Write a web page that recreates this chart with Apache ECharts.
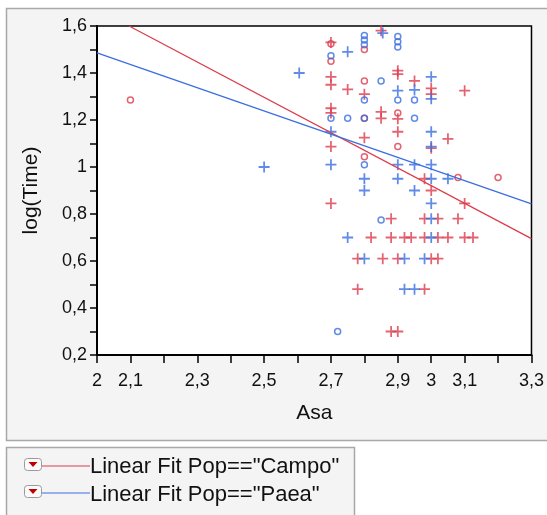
<!DOCTYPE html>
<html>
<head>
<meta charset="utf-8">
<script src="https://cdn.jsdelivr.net/npm/echarts@6/dist/echarts.min.js"></script>
<style>
html,body{margin:0;padding:0;background:#fff;}
#c{width:547px;height:515px;}
</style>
</head>
<body>
<div id="c"></div>
<script>
// Campo (red) markers
const campoPlus = [
  [2.70,1.53],[2.70,1.384],[2.70,1.35],[2.75,1.33],[2.80,1.31],[2.85,1.58],
  [2.90,1.41],[2.90,1.395],[2.95,1.366],[3.00,1.335],[3.00,1.31],[3.10,1.325],
  [2.70,1.25],[2.70,1.23],[2.85,1.235],[2.85,1.207],[2.90,1.205],[2.80,1.125],
  [2.90,1.15],[3.05,1.12],[2.70,1.087],[3.00,1.08],[2.98,0.95],[3.00,0.90],
  [2.70,0.845],[3.10,0.845],
  [2.88,0.78],[2.98,0.78],[3.02,0.78],[3.08,0.78],
  [2.82,0.70],[2.88,0.70],[2.92,0.70],[2.94,0.70],[2.98,0.70],[3.02,0.70],[3.05,0.70],[3.10,0.70],[3.125,0.70],
  [2.78,0.61],[2.855,0.61],[2.90,0.61],[3.00,0.61],[3.02,0.61],
  [2.78,0.48],[2.98,0.48],
  [2.88,0.30],[2.90,0.30]
];
const campoCircle = [
  [2.10,1.285],[2.70,1.525],[2.70,1.45],[2.80,1.50],[2.80,1.366],[2.80,1.207],
  [2.90,1.23],[2.90,1.087],[2.80,1.044],[3.08,0.955],[3.20,0.955]
];
// Paea (blue) markers
const paeaPlus = [
  [2.50,1.00],[2.605,1.40],[2.75,1.49],[2.855,1.57],[3.00,1.384],[2.90,1.325],
  [2.95,1.328],[3.00,1.29],[2.70,1.15],[3.00,1.15],[3.00,1.087],
  [2.70,1.01],[2.90,1.01],[2.95,1.01],[3.00,1.01],
  [2.80,0.95],[2.90,0.95],[3.00,0.95],[3.05,0.95],
  [2.80,0.90],[2.95,0.90],[3.00,0.845],[3.00,0.78],
  [2.75,0.70],[3.00,0.70],
  [2.80,0.61],[2.92,0.61],[2.98,0.61],
  [2.92,0.48],[2.95,0.48]
];
const paeaCircle = [
  [2.70,1.473],[2.80,1.56],[2.80,1.54],[2.80,1.52],[2.90,1.555],[2.90,1.533],[2.90,1.511],
  [2.85,1.366],[2.80,1.285],[2.90,1.285],[2.95,1.285],
  [2.70,1.207],[2.75,1.207],[2.80,1.207],[2.95,1.207],
  [2.80,1.01],[2.85,0.775],[2.72,0.30]
];
// Linear fits (endpoints)
const campoFit = [[2.096,1.6],[3.3,0.695]];
const paeaFit = [[2.0,1.486],[3.3,0.843]];
// Tick labels
const xTickLabels = [2,2.1,2.3,2.5,2.7,2.9,3,3.1,3.3];
const yTickLabels = [0.2,0.4,0.6,0.8,1,1.2,1.4,1.6];
const legendTexts = ['Linear Fit Pop=="Campo"','Linear Fit Pop=="Paea"'];

const RED = '#dc3c4c';
const BLUE = '#3a6ee0';
const FONT = '"Liberation Sans", Arial, sans-serif';
const PLUS = 'path://M4.2,0H5.8V4.2H10V5.8H5.8V10H4.2V5.8H0V4.2H4.2Z';

function fmt(v){ return String(Math.round(v*10)/10).replace('.', ','); }
function inList(v, list){ return list.some(t => Math.abs(t - v) < 1e-6); }

const chart = echarts.init(document.getElementById('c'), null, {renderer:'canvas'});
const plusSeries = (name, data, color) => ({
  name, type:'scatter', data, symbol: PLUS, symbolSize: 11,
  itemStyle:{color}, z:3
});
const circSeries = (name, data, color) => ({
  name, type:'scatter', data, symbol:'circle', symbolSize: 6,
  itemStyle:{color:'rgba(0,0,0,0)', borderColor:color, borderWidth:1.5}, z:3
});
const fitSeries = (name, data, color) => ({
  name, type:'line', data, symbol:'none', clip:true,
  lineStyle:{color, width:1.3}, z:4, silent:true
});

chart.setOption({
  animation:false,
  backgroundColor:'#fff',
  graphic:[
    {type:'rect', z:-10, shape:{x:6.5,y:8.5,width:560,height:432}, style:{fill:'#f4f4f4', stroke:'#a8a8a8', lineWidth:1.5}},
    {type:'rect', z:-10, shape:{x:6.5,y:447.5,width:348,height:80}, style:{fill:'#f4f4f4', stroke:'#a8a8a8', lineWidth:1.5}},
    // legend row 1
    {type:'rect', shape:{x:24.5,y:458.5,width:17,height:12,r:3}, style:{fill:'#fbfbfb', stroke:'#9a9a9a', lineWidth:1}},
    {type:'polygon', shape:{points:[[28.5,462],[37.5,462],[33,467]]}, style:{fill:'#c00000'}},
    {type:'line', shape:{x1:42,y1:466,x2:90,y2:466}, style:{stroke:RED, lineWidth:1.2}},
    {type:'text', x:90, y:467, style:{text:legendTexts[0], font:'22px '+FONT, fill:'#111', verticalAlign:'middle'}},
    {type:'rect', shape:{x:24.5,y:485.5,width:17,height:12,r:3}, style:{fill:'#fbfbfb', stroke:'#9a9a9a', lineWidth:1}},
    {type:'polygon', shape:{points:[[28.5,489],[37.5,489],[33,494]]}, style:{fill:'#c00000'}},
    {type:'line', shape:{x1:42,y1:493,x2:90,y2:493}, style:{stroke:BLUE, lineWidth:1.2}},
    {type:'text', x:90, y:495, style:{text:legendTexts[1], font:'22px '+FONT, fill:'#111', verticalAlign:'middle'}}
  ],
  grid:{left:97, top:26, width:438, height:329, show:true, backgroundColor:'#fff', borderColor:'#000', borderWidth:1.5, containLabel:false},
  xAxis:{
    type:'value', min:2, max:3.3, interval:0.1,
    name:'Asa', nameLocation:'middle', nameGap:48,
    nameTextStyle:{fontFamily:FONT, fontSize:21, color:'#111'},
    axisLine:{show:true, onZero:false, lineStyle:{color:'#000', width:2}},
    axisTick:{show:true, length:8, lineStyle:{color:'#000', width:1.5}},
    axisLabel:{margin:17, fontFamily:FONT, fontSize:18, color:'#111',
      formatter: v => inList(v, xTickLabels) ? fmt(v) : ''},
    splitLine:{show:false}
  },
  yAxis:{
    type:'value', min:0.2, max:1.6, interval:0.1,
    name:'log(Time)', nameLocation:'middle', nameGap:55, nameRotate:90,
    nameTextStyle:{fontFamily:FONT, fontSize:21, color:'#111'},
    axisLine:{show:true, onZero:false, lineStyle:{color:'#000', width:2}},
    axisTick:{show:true, length:7, lineStyle:{color:'#000', width:1.5}},
    axisLabel:{margin:10, fontFamily:FONT, fontSize:18, color:'#111',
      formatter: v => inList(v, yTickLabels) ? fmt(v) : ''},
    splitLine:{show:false}
  },
  series:[
    plusSeries('Campo +', campoPlus, RED),
    circSeries('Campo o', campoCircle, RED),
    plusSeries('Paea +', paeaPlus, BLUE),
    circSeries('Paea o', paeaCircle, BLUE),
    fitSeries('Linear Fit Pop=="Campo"', campoFit, RED),
    fitSeries('Linear Fit Pop=="Paea"', paeaFit, BLUE)
  ]
});
</script>
</body>
</html>
